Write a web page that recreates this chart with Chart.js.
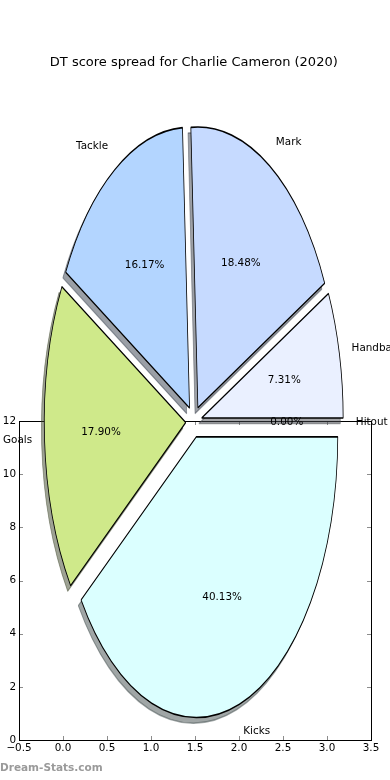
<!DOCTYPE html>
<html>
<head>
<meta charset="utf-8">
<script src="https://cdn.jsdelivr.net/npm/chart.js@4.4.1/dist/chart.umd.min.js"></script>
<style>
  html, body { margin: 0; padding: 0; background: #fff; }
  #wrap { position: relative; width: 390px; height: 780px; overflow: hidden; }
  #wrap canvas { position: absolute; left: 0; top: 0; }
  #mark { position: absolute; left: 0; top: 761px; font: bold 10.5px "DejaVu Sans", sans-serif; color: #9a9a9a; }
</style>
</head>
<body>
<div id="wrap">
  <canvas id="axes" width="390" height="780"></canvas>
  <canvas id="pie" width="390" height="780"></canvas>
  <div id="mark">Dream-Stats.com</div>
</div>
<script>
// slices, clockwise from 3 o'clock
const categories = ['Kicks', 'Goals', 'Tackle', 'Mark', 'Handball', 'Hitout'];
const shares = [40.13, 17.90, 16.17, 18.48, 7.31, 0.00];
const sliceColours = ['#dbffff', '#cfe98a', '#b3d5ff', '#c6daff', '#eaf0ff', '#ffffff'];

// the stray axes behind the pie
const xRange = [-0.5, 3.5];
const xStep = 0.5;
const yRange = [0, 12];
const yStep = 2;

const RADIUS = 141.5;   // px, horizontal
const STRETCH = 1.984;  // pie is squashed to the axes aspect
const EXPLODE = 0.057;
const SHADOW = 0.02;
const LABEL_DIST_X = 1.088;
const LABEL_DIST_Y = 1.1;
const PCT_DIST = 0.6;

Chart.defaults.font.family = '"DejaVu Sans", sans-serif';
Chart.defaults.color = '#000';

function shadeOf(hex) {
    const n = parseInt(hex.slice(1), 16);
    const r = Math.round(((n >> 16) & 255) * 0.3);
    const g = Math.round(((n >> 8) & 255) * 0.3);
    const b = Math.round((n & 255) * 0.3);
    return 'rgba(' + r + ',' + g + ',' + b + ',0.5)';
}

const framePlugin = {
    id: 'frame',
    afterDraw(chart) {
        const ctx = chart.ctx;
        const a = chart.chartArea;
        const sx = chart.scales.x, sy = chart.scales.y;
        ctx.save();
        ctx.strokeStyle = 'rgba(0,0,0,0.45)';
        ctx.lineWidth = 1;
        ctx.beginPath();
        sx.ticks.forEach(t => {
            const p = Math.round(sx.getPixelForValue(t.value)) + 0.5;
            ctx.moveTo(p, a.bottom); ctx.lineTo(p, a.bottom - 4);
            ctx.moveTo(p, a.top); ctx.lineTo(p, a.top + 4);
        });
        sy.ticks.forEach(t => {
            const p = Math.round(sy.getPixelForValue(t.value)) + 0.5;
            ctx.moveTo(a.left, p); ctx.lineTo(a.left + 4, p);
            ctx.moveTo(a.right, p); ctx.lineTo(a.right - 4, p);
        });
        ctx.stroke();
        ctx.strokeStyle = '#000';
        ctx.strokeRect(Math.round(a.left) + 0.5, Math.round(a.top) + 0.5,
            Math.round(a.right - a.left), Math.round(a.bottom - a.top));
        ctx.restore();
    }
};

new Chart(document.getElementById('axes'), {
    type: 'scatter',
    data: { datasets: [{ data: [] }] },
    options: {
        responsive: false,
        animation: false,
        events: [],
        layout: { padding: { top: 421, right: 19, left: 0, bottom: 0 } },
        plugins: { legend: { display: false }, tooltip: { enabled: false } },
        scales: {
            x: {
                type: 'linear', min: xRange[0], max: xRange[1],
                grid: { display: false, drawTicks: false },
                border: { display: false },
                ticks: {
                    stepSize: xStep, maxRotation: 0, autoSkip: false, padding: 2,
                    font: { size: 10.4 },
                    callback: v => (v < 0 ? '\u2212' : '') + Math.abs(v).toFixed(1)
                },
                afterFit: s => { s.height = 40; }
            },
            y: {
                type: 'linear', min: yRange[0], max: yRange[1],
                grid: { display: false, drawTicks: false },
                border: { display: false },
                ticks: { stepSize: yStep, padding: 3, font: { size: 10.4 } },
                afterFit: s => { s.width = 19; }
            }
        }
    },
    plugins: [framePlugin]
});

const piePlugin = {
    id: 'explodedPie',
    beforeDatasetsDraw(chart) {
        const ctx = chart.ctx;
        const arcs = chart.getDatasetMeta(0).data;
        const cx = arcs[0].x, cy = arcs[0].y;
        ctx.save();
        ctx.translate(cx, cy);
        ctx.scale(1, STRETCH);
        ctx.translate(-cx, -cy);
        const pass = shadow => {
            arcs.forEach(arc => {
                const mid = (arc.startAngle + arc.endAngle) / 2;
                const d = EXPLODE * arc.outerRadius;
                let dx = Math.cos(mid) * d, dy = Math.sin(mid) * d;
                const opts = arc.options;
                if (shadow) {
                    dx -= SHADOW * arc.outerRadius;
                    dy += SHADOW * arc.outerRadius;
                    const c = shadeOf(opts.backgroundColor);
                    arc.options = Object.assign({}, opts, { backgroundColor: c, borderColor: c });
                }
                ctx.save();
                ctx.translate(dx, dy);
                arc.draw(ctx);
                ctx.restore();
                arc.options = opts;
            });
        };
        pass(true);
        pass(false);
        ctx.restore();
        return false;
    },
    afterDraw(chart) {
        const ctx = chart.ctx;
        const arcs = chart.getDatasetMeta(0).data;
        const total = shares.reduce((s, v) => s + v, 0);
        ctx.save();
        ctx.font = '10.4px "DejaVu Sans"';
        ctx.fillStyle = '#000';
        ctx.textBaseline = 'middle';
        arcs.forEach((arc, i) => {
            const mid = (arc.startAngle + arc.endAngle) / 2;
            const R = arc.outerRadius;
            const c = Math.cos(mid), s = Math.sin(mid);
            const ox = arc.x + c * EXPLODE * R;
            const oy = arc.y + s * EXPLODE * R * STRETCH + 0.5;
            ctx.textAlign = c > 0 ? 'left' : 'right';
            ctx.fillText(categories[i], ox + c * LABEL_DIST_X * R, oy + s * LABEL_DIST_Y * R * STRETCH);
            ctx.textAlign = 'center';
            const pct = (shares[i] / total * 100).toFixed(2) + '%';
            ctx.fillText(pct, ox + c * PCT_DIST * R, oy + s * PCT_DIST * R * STRETCH);
        });
        ctx.restore();
    }
};

new Chart(document.getElementById('pie'), {
    type: 'pie',
    data: {
        labels: categories,
        datasets: [{
            data: shares,
            backgroundColor: sliceColours,
            borderColor: '#000',
            borderWidth: 0.8
        }]
    },
    options: {
        responsive: false,
        animation: false,
        events: [],
        rotation: 90,
        radius: RADIUS,
        layout: { padding: { top: 0, left: 0, right: 2.4, bottom: 7.4 } },
        plugins: {
            legend: { display: false },
            tooltip: { enabled: false },
            title: {
                display: true,
                text: 'DT score spread for Charlie Cameron (2020)',
                color: '#000',
                font: { size: 13, weight: 'normal' },
                padding: { top: 55, bottom: 0 }
            }
        }
    },
    plugins: [piePlugin]
});
</script>
</body>
</html>
